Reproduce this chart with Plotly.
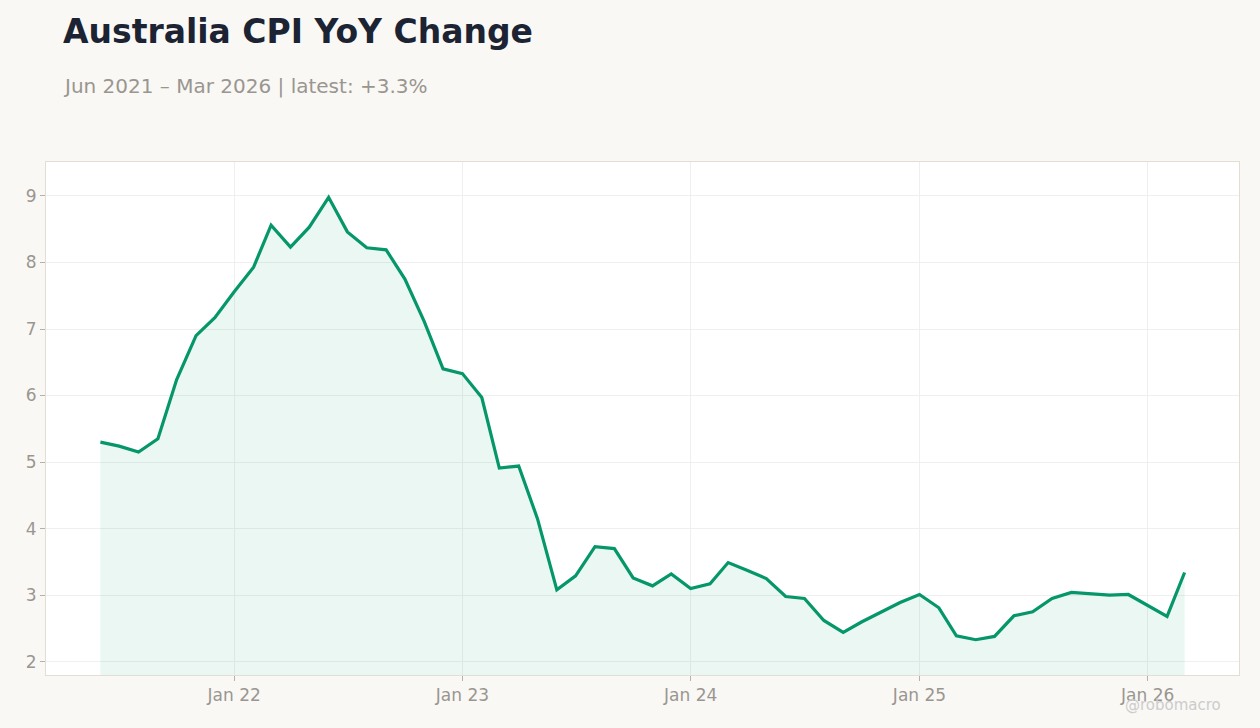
import plotly.graph_objects as go
import pandas as pd

months = pd.date_range("2021-06-01", "2026-03-01", freq="MS").strftime("%Y-%m-%d").tolist()
cpi_yoy = [5.30, 5.24, 5.15, 5.35, 6.24, 6.90, 7.17, 7.56, 7.93, 8.56,
           8.23, 8.53, 8.98, 8.46, 8.22, 8.19, 7.75, 7.11, 6.40, 6.33,
           5.97, 4.91, 4.94, 4.15, 3.08, 3.29, 3.73, 3.70, 3.26, 3.14,
           3.32, 3.10, 3.17, 3.49, 3.37, 3.25, 2.98, 2.95, 2.62, 2.44,
           2.60, 2.75, 2.89, 3.01, 2.81, 2.39, 2.33, 2.38, 2.69, 2.75,
           2.95, 3.04, 3.02, 3.00, 3.01, 2.84, 2.68, 3.34]

title_text = "Australia CPI YoY Change"
subtitle_text = "Jun 2021 – Mar 2026 | latest: +3.3%"
watermark = "@robomacro"

fig = go.Figure()
fig.add_trace(go.Scatter(
    x=months, y=cpi_yoy, mode="lines",
    line=dict(color="#059669", width=3.2),
    fill="tozeroy", fillcolor="rgba(5,150,105,0.08)",
    hoverinfo="x+y",
))

fig.update_layout(
    width=1260, height=728,
    paper_bgcolor="#f9f8f5", plot_bgcolor="#ffffff",
    margin=dict(l=46, r=21, t=162, b=53),
    showlegend=False,
    font=dict(family="DejaVu Sans", color="#999690"),
    xaxis=dict(
        type="date", range=["2021-03-06", "2026-05-27"],
        tick0="2022-01-01", dtick="M12", tickformat="%b %y",
        showgrid=True, gridcolor="#efefef", gridwidth=1,
        ticks="outside", ticklen=5, tickcolor="#b5b1aa",
        tickfont=dict(size=17, color="#999690"),
        showline=True, linecolor="#e2ddd5", linewidth=1, mirror=True,
        zeroline=False,
    ),
    yaxis=dict(
        range=[1.8, 9.51], dtick=1, tick0=0,
        showgrid=True, gridcolor="#efefef", gridwidth=1,
        ticks="outside", ticklen=5, tickcolor="#b5b1aa",
        tickfont=dict(size=17, color="#999690"),
        showline=True, linecolor="#e2ddd5", linewidth=1, mirror=True,
        zeroline=False,
    ),
    annotations=[
        dict(text="<b>" + title_text + "</b>", xref="paper", yref="paper",
             x=(61 - 46) / 1193, y=(675 - 31) / 513, xanchor="left", yanchor="middle",
             showarrow=False, font=dict(size=33, color="#1c2333", family="DejaVu Sans")),
        dict(text=subtitle_text, xref="paper", yref="paper",
             x=(61 - 46) / 1193, y=(675 - 86) / 513, xanchor="left", yanchor="middle",
             showarrow=False, font=dict(size=20, color="#999690", family="DejaVu Sans")),
        dict(text=watermark, xref="paper", yref="paper",
             x=(1223 - 46) / 1193, y=(675 - 705) / 513, xanchor="right", yanchor="middle",
             showarrow=False, font=dict(size=15, color="#cccccc", family="DejaVu Sans")),
    ],
)

fig.write_html("out.html")
